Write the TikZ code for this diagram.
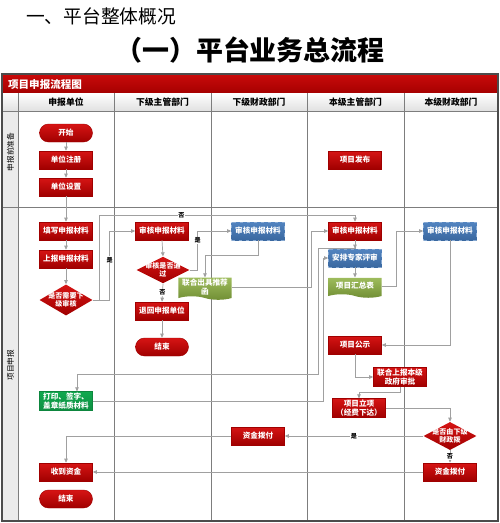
\documentclass[tikz,border=0pt]{standalone}
\usepackage{fontspec}
\newfontfamily\cjk{Noto Sans CJK SC}
\usepackage{tikz}
\usetikzlibrary{
  arrows.meta,
  positioning,
  shapes.geometric,
  shapes.symbols
}
\definecolor{bandred}{RGB}{200,10,10}
\definecolor{banddark}{RGB}{165,0,0}
\definecolor{boxred}{RGB}{214,20,20}
\definecolor{boxdark}{RGB}{160,0,0}
\definecolor{reviewblue}{RGB}{82,132,192}
\definecolor{reviewdark}{RGB}{58,104,160}
\definecolor{docgreen}{RGB}{158,188,92}
\definecolor{docdark}{RGB}{112,142,52}
\definecolor{papergreen}{RGB}{16,168,78}
\definecolor{laneline}{RGB}{125,125,125}
\definecolor{flowline}{RGB}{160,160,160}
\tikzset{
  redbox/.style={draw=boxdark, top color=boxred, bottom color=boxdark,
    text=white, minimum width=1.59cm, minimum height=0.54cm,
    inner sep=1pt, align=center,
    font=\cjk\bfseries\fontsize{6.5}{7.6}\selectfont},
  bluebox/.style={redbox, draw=white!30!reviewblue, dashed, line width=0.4pt,
    top color=reviewblue, bottom color=reviewdark},
  docbox/.style={tape, tape bend top=none, tape bend bottom=out and in,
    tape bend height=3pt, draw=none, top color=docgreen, bottom color=docdark,
    text=white, minimum width=1.59cm, minimum height=0.6cm,
    inner sep=1pt, align=center,
    font=\cjk\bfseries\fontsize{6.5}{7.6}\selectfont},
  paperbox/.style={redbox, draw=papergreen!80!black, top color=papergreen,
    bottom color=papergreen!85!black, align=left},
  endbox/.style={redbox, rounded corners=0.27cm},
  decision/.style={diamond, draw=none, top color=boxred, bottom color=boxdark,
    text=white, minimum width=1.59cm, inner sep=-8pt, align=center,
    font=\cjk\bfseries\fontsize{6}{7}\selectfont},
  flow/.style={-{Triangle[length=3.5pt, width=3pt]}, flowline, line width=0.6pt},
  lbl/.style={fill=white, inner sep=0.6pt, text=black,
    font=\cjk\bfseries\fontsize{5.2}{6}\selectfont},
  lanehead/.style={font=\cjk\bfseries\fontsize{7.5}{9}\selectfont},
  rowlabel/.style={rotate=90, font=\cjk\fontsize{6.5}{8}\selectfont},
}

\begin{document}
\begin{tikzpicture}[x=0.03cm, y=-0.03cm]
  \useasboundingbox (0,0) rectangle (500,523);

  % Titles
  \node[anchor=west, font=\cjk\fontsize{16}{18}\selectfont] (sec) at (22,16) {一、平台整体概况};
  \node[font=\cjk\bfseries\fontsize{23}{27}\selectfont] (ttl) at (250,50) {（一）平台业务总流程};

  % Frame and lanes
  \shade[top color=bandred, bottom color=banddark] (3,75) rectangle (497,93);
  \node[anchor=west, text=white, font=\cjk\bfseries\fontsize{9}{10}\selectfont]
    (band) at (4,84) {项目申报流程图};
  \shade[top color=white, bottom color=black!12] (3,93) rectangle (497,111);
  \fill[black!8] (3,111) rectangle (18,520);
  \draw[laneline, line width=0.6pt] (3,111) -- (497,111) (3,207) -- (497,207);
  \foreach \x in {18,114.5,211,307.5,404}
    \draw[laneline, line width=0.6pt] (\x,93) -- (\x,520);
  \draw[black!70, line width=1.5pt] (2,74) rectangle (498,521);
  \foreach \i/\x/\txt in {1/66/申报单位, 2/162.5/下级主管部门, 3/259/下级财政部门,
                          4/355.5/本级主管部门, 5/451/本级财政部门}
    \node[lanehead] (hd\i) at (\x,102) {\txt};
  \node[rowlabel] (prep) at (10.5,152) {申报前准备};
  \node[rowlabel] (apply) at (10.5,365) {项目申报};

  % Applicant
  \node[endbox] (start) at (66,133) {开始};
  \node[redbox] (reg) at (66,160) {单位注册};
  \node[redbox] (setup) at (66,187) {单位设置};
  \node[redbox] (write) at (66,231) {填写申报材料};
  \node[redbox] (submit) at (66,259) {上报申报材料};
  \node[decision, minimum height=0.93cm] (needlow) at (66,300) {是否需要下\\级审核};
  \node[paperbox] (paper) at (66,401) {打印、签字、\\盖章纸质材料};
  \node[redbox] (recv) at (66,472) {收到资金};
  \node[endbox] (done) at (66,499) {结束};

  % Lower department
  \node[redbox] (lowchk) at (162,231) {审核申报材料};
  \node[decision, minimum height=0.8cm] (pass) at (163,270) {审核是否通\\过};
  \node[redbox] (back) at (162,311) {退回申报单位};
  \node[endbox] (stop) at (162,347) {结束};

  % Lower finance
  \node[bluebox] (lowfin) at (258,231) {审核申报材料};
  \node[docbox] (letter) at (205,287) {联合出具推荐\\函};
  \node[redbox] (pay3) at (258,436) {资金拨付};

  % Upper department
  \node[redbox] (publish) at (355,160) {项目发布};
  \node[redbox] (upchk) at (355,231) {审核申报材料};
  \node[bluebox] (expert) at (355,258) {安排专家评审};
  \node[docbox] (summary) at (355,286) {项目汇总表};
  \node[redbox] (notice) at (355,345) {项目公示};
  \node[redbox] (joint) at (400,377) {联合上报本级\\政府审批};
  \node[redbox] (approve) at (359,408) {项目立项\\（经费下达）};

  % Upper finance
  \node[bluebox] (upfin) at (450,231) {审核申报材料};
  \node[decision, minimum height=0.84cm] (bylow) at (450,436) {是否由下级\\财政拨};
  \node[redbox] (pay5) at (450,472) {资金拨付};

  % Arrows
  \foreach \a/\b in {start/reg, reg/setup, setup/write, write/submit,
                     submit/needlow, lowchk/pass, back/stop, upchk/expert,
                     expert/summary}
    \draw[flow] (\a.south) -- (\b.north);
  \draw[flow] (pass.south) -- node[lbl] {否} (back.north);
  \draw[flow] (needlow.east) -- ++(17,0) |- node[lbl, pos=0.29] {是} (lowchk.west);
  \draw[flow] (needlow.east) -- ++(7,0) -- ++(0,-85) -| node[lbl, pos=0.16] {否} (upchk.north);
  \draw[flow] (pass.east) -- ++(8,0) |- node[lbl, pos=0.38] {是} (lowfin.west);
  \draw[flow] (lowfin.south) -- ++(0,15) -| (letter.north);
  \draw[flow] (letter.east) -- ++(80,0) |- (upchk.west);
  \draw[flow] (upchk.south) -- ++(0,8) -- ++(-37,0) -- ++(0,126) -| ([xshift=0.33cm]paper.north);
  \draw[flow] (paper.east) -- ++(230.5,0) |- (expert.west);
  \draw[flow] (summary.east) -- ++(15,0) |- (upfin.west);
  \draw[flow] (upfin.south) |- (notice.east);
  \draw[flow] (notice.south) |- (joint.west);
  \draw[flow] (joint.south) -- ++(0,6) -| (approve.north);
  \draw[flow] (approve.east) -| (bylow.north);
  \draw[flow] (bylow.west) -- node[lbl] {是} (pay3.east);
  \draw[flow] (bylow.south) -- node[lbl] {否} (pay5.north);
  \draw[flow] (pay5.west) -- (recv.east);
  \draw[flow] (pay3.west) -| (recv.north);
\end{tikzpicture}
\end{document}
